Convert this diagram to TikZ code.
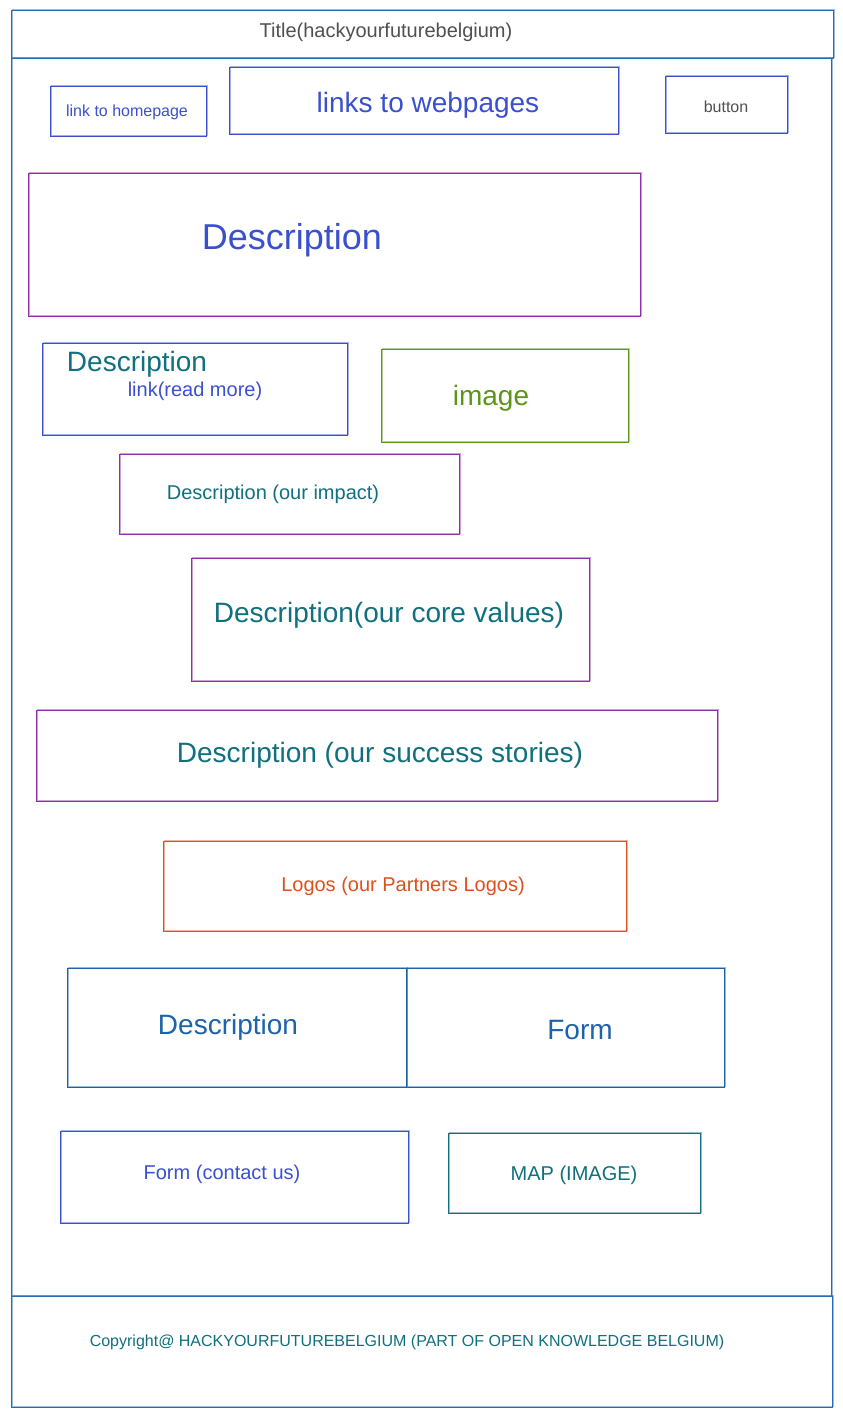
\documentclass[tikz,border=0pt]{standalone}
\usepackage{fontspec}
\setmainfont{Liberation Sans}
\definecolor{frameblue}{RGB}{38,108,178}
\definecolor{linkblue}{RGB}{58,80,206}
\definecolor{purp}{RGB}{142,46,168}
\definecolor{grn}{RGB}{92,150,24}
\definecolor{teal}{RGB}{16,112,126}
\definecolor{orng}{RGB}{222,80,30}
\definecolor{steel}{RGB}{30,98,170}
\definecolor{gry}{RGB}{80,80,80}
\newcommand{\fs}[1]{\fontsize{#1}{#1}\selectfont}
\begin{document}
\begin{tikzpicture}[x=1pt,y=-1pt,
  sk/.style={draw=#1, line width=1.1pt, postaction={draw=#1, opacity=0.45, line width=0.8pt, transform canvas={shift={(0.9pt,0.7pt)}}}},
  bx/.style={rectangle, inner sep=0pt, sk=#1},
  txt/.style={inner sep=0pt, anchor=center, yshift=-2.5pt}]
\useasboundingbox (0,0) rectangle (843,1417);
\fill[white] (0,0) rectangle (843,1417);
% frame
\node[bx=frameblue, anchor=north west, minimum width=822pt, minimum height=48pt] (header) at (11,10) {};
\node[bx=frameblue, anchor=north west, minimum width=820pt, minimum height=1238pt] (body) at (11,58) {};
\node[bx=frameblue, anchor=north west, minimum width=821pt, minimum height=111pt] (footer) at (11,1296) {};
\node[txt, text=gry] (title) at (386,30) {\fs{20}Title(hackyourfuturebelgium)};
% top row
\node[bx=linkblue, anchor=north west, minimum width=156pt, minimum height=50pt] (home) at (50,86) {};
\node[txt, text=linkblue] (homet) at (127,110) {\fs{16}link to homepage};
\node[bx=linkblue, anchor=north west, minimum width=389pt, minimum height=67pt] (web) at (229,67) {};
\node[txt, text=linkblue] (webt) at (428,103) {\fs{28}links to webpages};
\node[bx=linkblue, anchor=north west, minimum width=122pt, minimum height=57pt] (btn) at (665,76) {};
\node[txt, text=gry] (btnt) at (726,104) {\fs{16}button};
% description 1
\node[bx=purp, anchor=north west, minimum width=612pt, minimum height=143pt] (d1) at (28,173) {};
\node[txt, text=linkblue] (d1t) at (292,238) {\fs{36}Description};
% description 2 + image
\node[bx=linkblue, anchor=north west, minimum width=305pt, minimum height=92pt] (d2) at (42,343) {};
\node[txt, text=teal] (d2t) at (137,362) {\fs{28}Description};
\node[txt, text=linkblue] (d2l) at (195,389) {\fs{20}link(read more)};
\node[bx=grn, anchor=north west, minimum width=247pt, minimum height=93pt] (img) at (381,349) {};
\node[txt, text=grn] (imgt) at (491,396) {\fs{28}image};
% impact
\node[bx=purp, anchor=north west, minimum width=340pt, minimum height=80pt] (imp) at (119,454) {};
\node[txt, text=teal] (impt) at (273,492) {\fs{20}Description (our impact)};
% core values
\node[bx=purp, anchor=north west, minimum width=398pt, minimum height=123pt] (core) at (191,558) {};
\node[txt, text=teal] (coret) at (389,613) {\fs{28}Description(our core values)};
% success
\node[bx=purp, anchor=north west, minimum width=681pt, minimum height=91pt] (succ) at (36,710) {};
\node[txt, text=teal] (succt) at (380,753) {\fs{28}Description (our success stories)};
% logos
\node[bx=orng, anchor=north west, minimum width=463pt, minimum height=90pt] (logo) at (163,841) {};
\node[txt, text=orng] (logot) at (403,884) {\fs{20}Logos (our Partners Logos)};
% description / form
\node[bx=steel, anchor=north west, minimum width=339pt, minimum height=119pt] (db) at (67,968) {};
\node[txt, text=steel] (dbt) at (228,1025) {\fs{28}Description};
\node[bx=steel, anchor=north west, minimum width=318pt, minimum height=119pt] (fb) at (406,968) {};
\node[txt, text=steel] (fbt) at (580,1027) {\fs{28}Form};
% contact / map
\node[bx=linkblue, anchor=north west, minimum width=348pt, minimum height=92pt] (ct) at (60,1131) {};
\node[txt, text=linkblue] (ctt) at (222,1172) {\fs{20}Form (contact us)};
\node[bx=teal, anchor=north west, minimum width=252pt, minimum height=80pt] (map) at (448,1133) {};
\node[txt, text=teal] (mapt) at (574,1173) {\fs{20}MAP (IMAGE)};
% footer text
\node[txt, text=teal] (copy) at (407,1340) {\fs{16}Copyright@ HACKYOURFUTUREBELGIUM (PART OF OPEN KNOWLEDGE BELGIUM)};
\end{tikzpicture}
\end{document}
